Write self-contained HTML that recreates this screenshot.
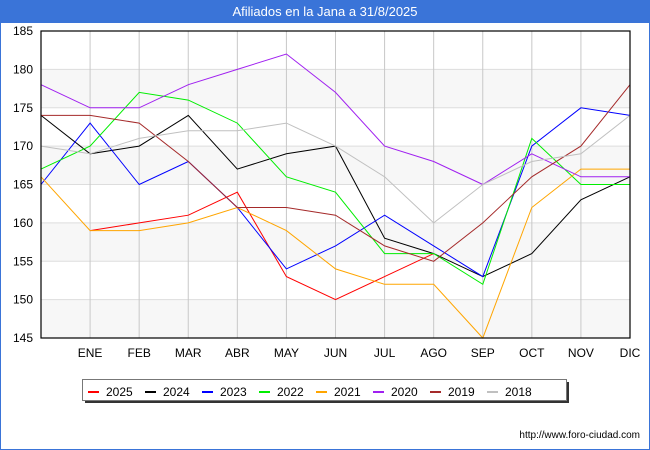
<!DOCTYPE html>
<html><head><meta charset="utf-8"><style>
body{margin:0;background:#fff;}
#wrap{position:relative;width:648px;height:448px;border:1px solid #3a74d8;background:#fff;overflow:hidden;font-family:"Liberation Sans",sans-serif;}
#title{position:absolute;left:0;top:0;width:648px;height:22px;background:#3a74d8;color:#fff;font-size:13px;text-align:center;line-height:22px;}
svg{position:absolute;left:0;top:0;}
</style></head><body>
<div id="wrap">
<div id="title">Afiliados en la Jana a 31/8/2025</div>
<svg id="chart" width="648" height="448"></svg>
</div>
<script>
const categories=["","ENE","FEB","MAR","ABR","MAY","JUN","JUL","AGO","SEP","OCT","NOV","DIC"];
const yTicks=[145,150,155,160,165,170,175,180,185];
const seriesNames=["2025","2024","2023","2022","2021","2020","2019","2018"];
const seriesColors=["#ff0000","#000000","#0000ff","#00ee00","#ffa500","#a020f0","#a52a2a","#c0c0c0"];
const s2025=[null,159,160,161,164,153,150,153,156,null,null,null,null];
const s2024=[174,169,170,174,167,169,170,158,156,153,156,163,166];
const s2023=[165,173,165,168,162,154,157,161,157,153,170,175,174];
const s2022=[167,170,177,176,173,166,164,156,156,152,171,165,165];
const s2021=[166,159,159,160,162,159,154,152,152,145,162,167,167];
const s2020=[178,175,175,178,180,182,177,170,168,165,169,166,166];
const s2019=[174,174,173,168,162,162,161,157,155,160,166,170,178];
const s2018=[170,169,171,172,172,173,170,166,160,165,168,169,174];
const allSeries=[s2025,s2024,s2023,s2022,s2021,s2020,s2019,s2018];

const NS="http://www.w3.org/2000/svg";
const svg=document.getElementById('chart');
const L=40,R=629,T=30,B=337,yMin=145,yMax=185;
const x=i=>L+(R-L)*i/(categories.length-1);
const y=v=>B-(v-yMin)/(yMax-yMin)*(B-T);
function mk(tag,attrs){const e=document.createElementNS(NS,tag);for(const k in attrs)e.setAttribute(k,attrs[k]);svg.appendChild(e);return e;}

// bands
for(let i=0;i<yTicks.length-1;i++){
  if(i%2===0){
    const b=mk('rect',{x:L,y:y(yTicks[i+1]),width:R-L,height:y(yTicks[i])-y(yTicks[i+1]),fill:'#f7f7f7'});
    
    
  }
}
// horizontal grid + y labels
yTicks.forEach(v=>{
  const g=mk('line',{x1:L,x2:R,y1:y(v),y2:y(v),stroke:'#dddddd','stroke-width':1});
  
  
  const t=mk('text',{x:L-8,y:y(v)+4,'text-anchor':'end','font-size':12,fill:'#000'});
  t.textContent=v;
  
  
});
// vertical grid + x labels
categories.forEach((c,i)=>{
  if(i>0){
    const g=mk('line',{x1:x(i),x2:x(i),y1:T,y2:B,stroke:'#c8c8c8','stroke-width':1});
    
    
  }
  if(c){
    const t=mk('text',{x:x(i),y:356,'text-anchor':'middle','font-size':12,fill:'#000'});
    t.textContent=c;
    
    
  }
});
// series
allSeries.forEach((s,k)=>{
  let d='',pen=false;
  s.forEach((v,i)=>{ if(v===null){pen=false;return;} d+=(pen?'L':'M')+x(i).toFixed(1)+' '+y(v).toFixed(1)+' '; pen=true;});
  const p=mk('path',{d:d,fill:'none',stroke:seriesColors[k],'stroke-width':1});
  
  
});
// frame
const f=mk('rect',{x:L,y:T,width:R-L,height:B-T,fill:'none',stroke:'#000','stroke-width':1.2});


// legend
const sh=mk('rect',{x:84,y:381,width:484,height:21,fill:'#333'});


const lb=mk('rect',{x:81.5,y:378.5,width:484,height:21,fill:'#fff',stroke:'#777','stroke-width':1});


seriesNames.forEach((n,k)=>{
  const x0=87+k*57;
  const ln=mk('line',{x1:x0,x2:x0+11,y1:391,y2:391,stroke:seriesColors[k],'stroke-width':2});
  
  
  const t=mk('text',{x:x0+18,y:395,'font-size':12,fill:'#000'});
  t.textContent=n;
  
  
});
const u=mk('text',{x:639,y:437,'text-anchor':'end','font-size':10,fill:'#000'});
u.textContent='http://www.foro-ciudad.com';


</script>
</body></html>
